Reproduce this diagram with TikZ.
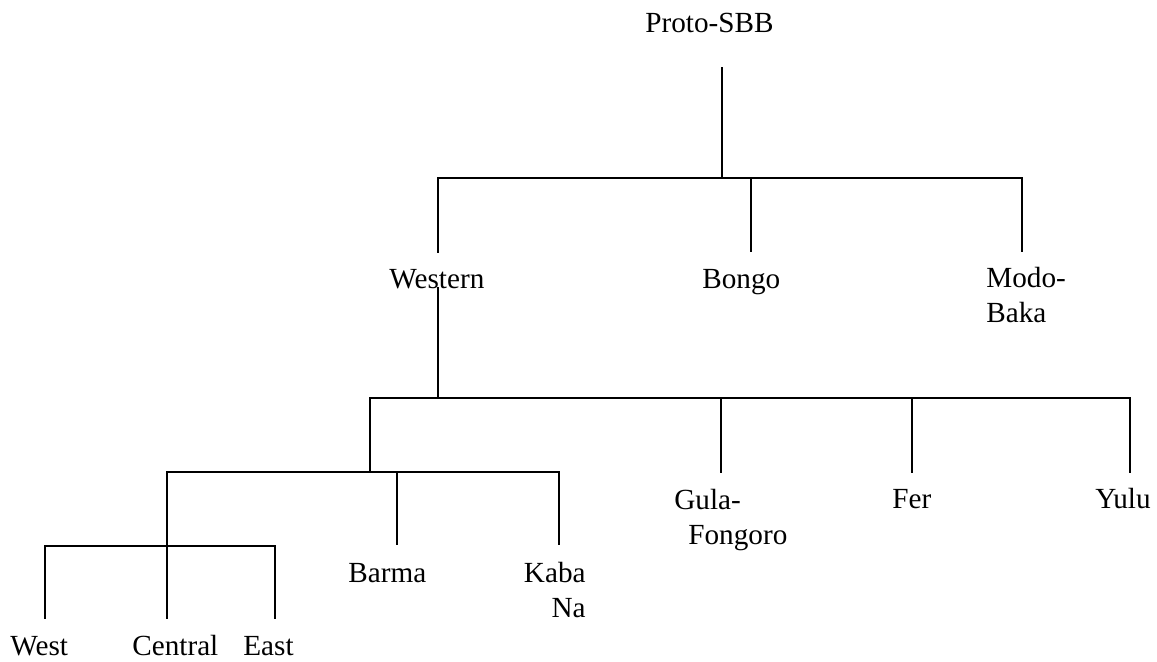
\documentclass[tikz,border=0pt]{standalone}
\usepackage{fontspec}
\setmainfont{Liberation Serif}
\begin{document}
\begin{tikzpicture}[x=0.5pt,y=-0.5pt,
  lbl/.style={inner sep=0pt, font=\fontsize{14.6}{17.5}\selectfont},
  branch/.style={line width=0.9pt, line cap=rect}]
\useasboundingbox (0,0) rectangle (1157,661);
% labels
\node[lbl, anchor=base west] (proto) at (645,32) {Proto-SBB};
\node[lbl, anchor=base west] (western) at (389,288) {Western};
\node[lbl, anchor=base west] (bongo) at (702,288) {Bongo};
\node[lbl, anchor=base west] (modo) at (986,287) {\begin{tabular}[t]{@{}l@{}}Modo-\\Baka\end{tabular}};
\node[lbl, anchor=base west] (gula) at (674,509) {\begin{tabular}[t]{@{}l@{}}Gula-\\\hspace*{7pt}Fongoro\end{tabular}};
\node[lbl, anchor=base west] (fer) at (892,508) {Fer};
\node[lbl, anchor=base west] (yulu) at (1095,508) {Yulu};
\node[lbl, anchor=base west] (barma) at (348,582) {Barma};
\node[lbl, anchor=base east] (kaba) at (586,582) {\begin{tabular}[t]{@{}r@{}}Kaba\\Na\end{tabular}};
\node[lbl, anchor=base west] (west) at (10,655) {West};
\node[lbl, anchor=base west] (central) at (132,655) {Central};
\node[lbl, anchor=base west] (east) at (243,655) {East};
% junction coordinates
\coordinate (protoStem) at (722,68);
\coordinate (j1) at (722,178);
\coordinate (j1w) at (438,178);
\coordinate (j1b) at (751,178);
\coordinate (j1m) at (1022,178);
\coordinate (westernTop) at (438,252);
\coordinate (bongoTop) at (751,251);
\coordinate (modoTop) at (1022,251);
\coordinate (westernStem) at (438,288);
\coordinate (j2) at (438,398);
\coordinate (j2a) at (370,398);
\coordinate (j2g) at (721,398);
\coordinate (j2f) at (912,398);
\coordinate (j2y) at (1130,398);
\coordinate (j3) at (370,472);
\coordinate (gulaTop) at (721,472);
\coordinate (ferTop) at (912,472);
\coordinate (yuluTop) at (1130,472);
\coordinate (j3c) at (167,472);
\coordinate (j3b) at (397,472);
\coordinate (j3k) at (559,472);
\coordinate (barmaTop) at (397,544);
\coordinate (kabaTop) at (559,544);
\coordinate (j4) at (167,546);
\coordinate (j4w) at (45,546);
\coordinate (j4e) at (275,546);
\coordinate (westTop) at (45,618);
\coordinate (centralTop) at (167,618);
\coordinate (eastTop) at (275,618);
% branches
\draw[branch] (protoStem) -- (j1);
\draw[branch] (j1w) -- (j1m);
\draw[branch] (j1w) -- (westernTop);
\draw[branch] (j1b) -- (bongoTop);
\draw[branch] (j1m) -- (modoTop);
\draw[branch] (westernStem) -- (j2);
\draw[branch] (j2a) -- (j2y);
\draw[branch] (j2a) -- (j3);
\draw[branch] (j2g) -- (gulaTop);
\draw[branch] (j2f) -- (ferTop);
\draw[branch] (j2y) -- (yuluTop);
\draw[branch] (j3c) -- (j3k);
\draw[branch] (j3c) -- (j4);
\draw[branch] (j3b) -- (barmaTop);
\draw[branch] (j3k) -- (kabaTop);
\draw[branch] (j4w) -- (j4e);
\draw[branch] (j4) -- (centralTop);
\draw[branch] (j4w) -- (westTop);
\draw[branch] (j4e) -- (eastTop);
\end{tikzpicture}
\end{document}
